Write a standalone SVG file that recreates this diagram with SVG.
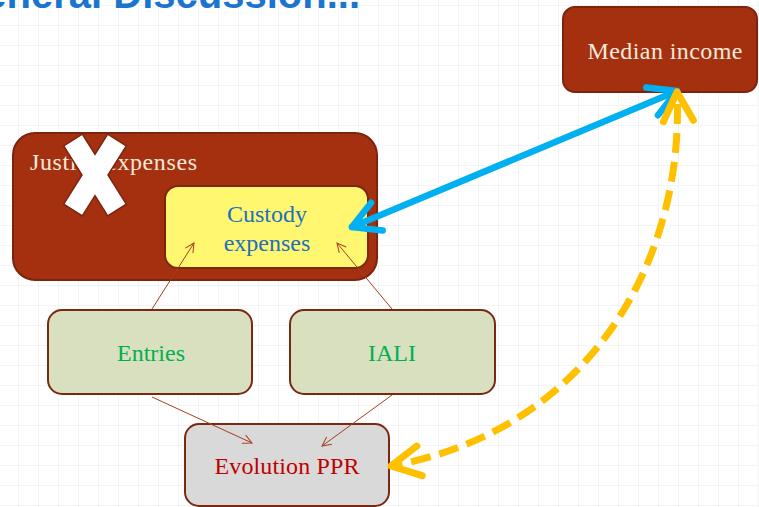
<svg xmlns="http://www.w3.org/2000/svg" width="759" height="507" viewBox="0 0 759 507">
<style>
.lbl{font-family:"Liberation Serif","DejaVu Serif",serif;font-size:24px;text-anchor:middle}
.rust{fill:#A5300F;stroke:#7B2410;stroke-width:2}
.box{stroke:#7B2812;stroke-width:2}
.thin{fill:none;stroke:#A63E20;stroke-width:1}
</style>
<defs>
<pattern id="grid" x="18" y="5" width="20" height="20" patternUnits="userSpaceOnUse">
<path d="M0 0H20M0 0V20" fill="none" stroke="#F1F1F1" stroke-width="1.5"/>
</pattern>
<marker id="mThin" markerUnits="userSpaceOnUse" markerWidth="20" markerHeight="20" viewBox="-10 -10 20 20" refX="0" refY="0" orient="auto" overflow="visible">
<path d="M-9 -4.5L0 0L-9 4.5" fill="none" stroke="#A63E20" stroke-width="1"/>
</marker>
<marker id="mBlue" markerUnits="userSpaceOnUse" markerWidth="60" markerHeight="60" viewBox="-30 -30 60 60" refX="0" refY="0" orient="auto-start-reverse" overflow="visible">
<path d="M-27 -15L0 0L-27 15" fill="none" stroke="#00B0F0" stroke-width="6.5" stroke-linecap="round" stroke-linejoin="round"/>
</marker>
<marker id="mGold" markerUnits="userSpaceOnUse" markerWidth="60" markerHeight="60" viewBox="-30 -30 60 60" refX="0" refY="0" orient="auto-start-reverse" overflow="visible">
<path d="M-29 -15L0 0L-29 15" fill="none" stroke="#FFC000" stroke-width="7" stroke-linecap="round" stroke-linejoin="round" stroke-dasharray="none"/>
</marker>
</defs>
<rect width="759" height="507" fill="#FFFFFF"/>
<rect width="759" height="507" fill="url(#grid)"/>
<text x="360" y="8" font-family="Liberation Sans, Arial, sans-serif" font-weight="bold" font-size="40" fill="#1B75CF" text-anchor="end">General Discussion...</text>

<g id="justice">
<rect class="rust" x="13" y="133" width="364" height="147" rx="22"/>
<text x="30" y="170" font-family="Liberation Serif, serif" font-size="24" fill="#F3EADB" textLength="167">Justice expenses</text>
<path d="M82.3 134.2L95 154.4L107.7 134.2L126.3 145.9L108 175L126.3 204.2L107.7 215.9L95 195.7L82.3 215.9L63.7 204.2L82 175L63.7 145.9Z" fill="#FFFFFF" stroke="#7B2410" stroke-width="1.5" stroke-linejoin="miter"/>
</g>
<g id="custody">
<rect class="box" x="165" y="186" width="203" height="82" rx="13" fill="#FFF76F"/>
<text class="lbl" x="267" y="222" fill="#1F6FBF">Custody</text>
<text class="lbl" x="267" y="251" fill="#1F6FBF">expenses</text>
</g>
<g id="median">
<rect class="rust" x="563" y="7" width="194" height="85" rx="12"/>
<text class="lbl" x="665" y="59" fill="#F3EADB" textLength="155">Median income</text>
</g>
<g id="entries">
<rect class="box" x="48" y="310" width="204" height="84" rx="14" fill="#D8E0BF"/>
<text class="lbl" x="151" y="361" fill="#00B050">Entries</text>
</g>
<g id="iali">
<rect class="box" x="290" y="310" width="205" height="84" rx="14" fill="#D8E0BF"/>
<text class="lbl" x="392" y="361" fill="#00B050">IALI</text>
</g>
<g id="evolution">
<rect class="box" x="185" y="424" width="204" height="82" rx="14" fill="#D9D9D9"/>
<text class="lbl" x="287" y="474" fill="#C00000" textLength="145">Evolution PPR</text>
</g>

<g id="connectors">
<path class="thin" d="M152 309L194 243" marker-end="url(#mThin)"/>
<path class="thin" d="M392 309L337 243" marker-end="url(#mThin)"/>
<path class="thin" d="M152 397L252 443" marker-end="url(#mThin)"/>
<path class="thin" d="M392 395L322 446" marker-end="url(#mThin)"/>
<path d="M352 227L677 91" fill="none" stroke="#00B0F0" stroke-width="6.5" stroke-linecap="round" marker-start="url(#mBlue)" marker-end="url(#mBlue)"/>
<path d="M677 92C685 260 590 430 391 466" fill="none" stroke="#FFC000" stroke-width="7" stroke-dasharray="20 9" stroke-dashoffset="-12" marker-start="url(#mGold)" marker-end="url(#mGold)"/>
</g>
</svg>
